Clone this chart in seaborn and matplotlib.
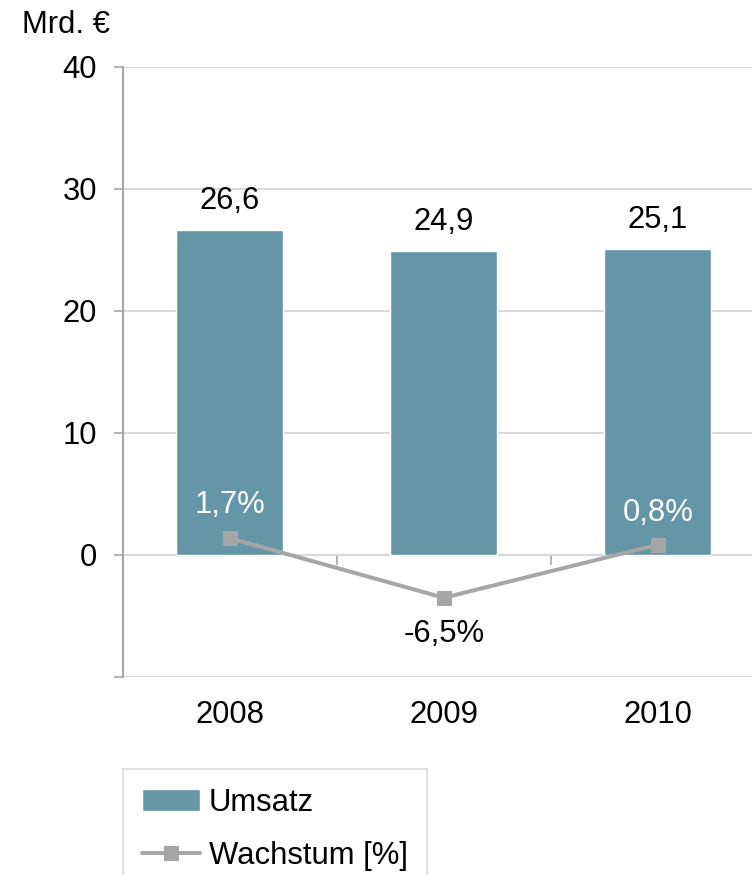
import matplotlib
matplotlib.use("Agg")
import matplotlib.pyplot as plt
import seaborn as sns
import pandas as pd

years = ["2008", "2009", "2010"]
umsatz = [26.6, 24.9, 25.1]
wachstum = [1.7, -6.5, 0.8]
umsatz_labels = ["26,6", "24,9", "25,1"]
wachstum_labels = ["1,7%", "-6,5%", "0,8%"]
wachstum_label_colors = ["white", "black", "white"]
y_ticks = [-10, 0, 10, 20, 30, 40]
y_ticklabels = ["", "0", "10", "20", "30", "40"]

BAR = "#6596A8"
GREY = "#A6A6A6"
GRID = "#D9D9D9"
FS = 22.3

sns.set_theme(style="white")
plt.rcParams["font.family"] = ["Liberation Sans", "DejaVu Sans"]
plt.rcParams["text.color"] = "black"
plt.rcParams["legend.labelcolor"] = "black"

df = pd.DataFrame({"Jahr": years, "Umsatz": umsatz, "Wachstum": wachstum})

W, H = 752, 875
fig = plt.figure(figsize=(W / 100, H / 100), dpi=100)
x0, x1 = 122.7, 765
ytop, ybot = 67, 677
ax = fig.add_axes([x0 / W, 1 - ybot / H, (x1 - x0) / W, (ybot - ytop) / H])

sns.barplot(data=df, x="Jahr", y="Umsatz", color=BAR, width=0.5, ax=ax,
            saturation=1, zorder=2, label="Umsatz")
if ax.get_legend() is not None:
    ax.get_legend().remove()
ax.set_ylim(-10, 40)
ax.set_xlim(-0.5, 2.5)
ax.set_yticks(y_ticks)
ax.set_yticklabels(y_ticklabels)
ax.yaxis.grid(True, color=GRID, lw=1.5, zorder=0)
ax.set_axisbelow(True)
for s in ["top", "right", "bottom"]:
    ax.spines[s].set_visible(False)
ax.spines["left"].set_color(GREY)
ax.spines["left"].set_linewidth(1.5)
ax.tick_params(axis="y", length=6.5, width=1.2, color=GREY, pad=12,
               labelsize=FS, labelcolor="black", left=True)
ax.tick_params(axis="x", length=0, pad=16.5, labelsize=FS, labelcolor="black")
ax.set_xlabel("")
ax.set_ylabel("")

# category axis crossing at y=0
sec = ax.secondary_xaxis(0.2)
sec.set_xticks([0.5, 1.5])
sec.set_xticklabels(["", ""])
sec.spines["bottom"].set_color(GREY)
sec.spines["bottom"].set_linewidth(1.5)
sec.tick_params(axis="x", direction="out", length=7.5, width=1.2, color=GREY)

for i, (v, t) in enumerate(zip(umsatz, umsatz_labels)):
    ax.annotate(t, (i, v), xytext=(0, 21), textcoords="offset points",
                ha="center", va="center", fontsize=FS, color="black")

# growth line on a secondary scale
ax2 = ax.twinx()
sns.pointplot(data=df, x="Jahr", y="Wachstum", color=GREY, markers="s",
              linestyles="-", markersize=8.3, linewidth=2.9, ax=ax2,
              label="Wachstum [%]", zorder=3)
if ax2.get_legend() is not None:
    ax2.get_legend().remove()
ax2.set_ylim(-17.4, 66.5)
ax2.set_xlim(-0.5, 2.5)
ax2.axis("off")
offs = [24, -26, 23]
for i, (v, t, c, o) in enumerate(zip(wachstum, wachstum_labels,
                                     wachstum_label_colors, offs)):
    ax2.annotate(t, (i, v), xytext=(0, o), textcoords="offset points",
                 ha="center", va="center", fontsize=FS, color=c)

fig.text(22 / W, 1 - 25 / H, "Mrd. €", fontsize=FS, ha="left", va="center",
         color="black")

h1, l1 = ax.get_legend_handles_labels()
h2, l2 = ax2.get_legend_handles_labels()
leg = fig.legend(h1[:1] + h2[:1], ["Umsatz", "Wachstum [%]"],
                 loc="upper left", bbox_to_anchor=(123 / W, 1 - 769 / H),
                 borderaxespad=0, fontsize=FS, frameon=True, fancybox=False,
                 edgecolor=GRID, handlelength=1.9, handletextpad=0.28,
                 labelspacing=0.75, borderpad=0.6, numpoints=1)
leg.get_frame().set_linewidth(1.5)
for t in leg.get_texts():
    t.set_color("black")

fig.savefig("out.png", dpi=100)
